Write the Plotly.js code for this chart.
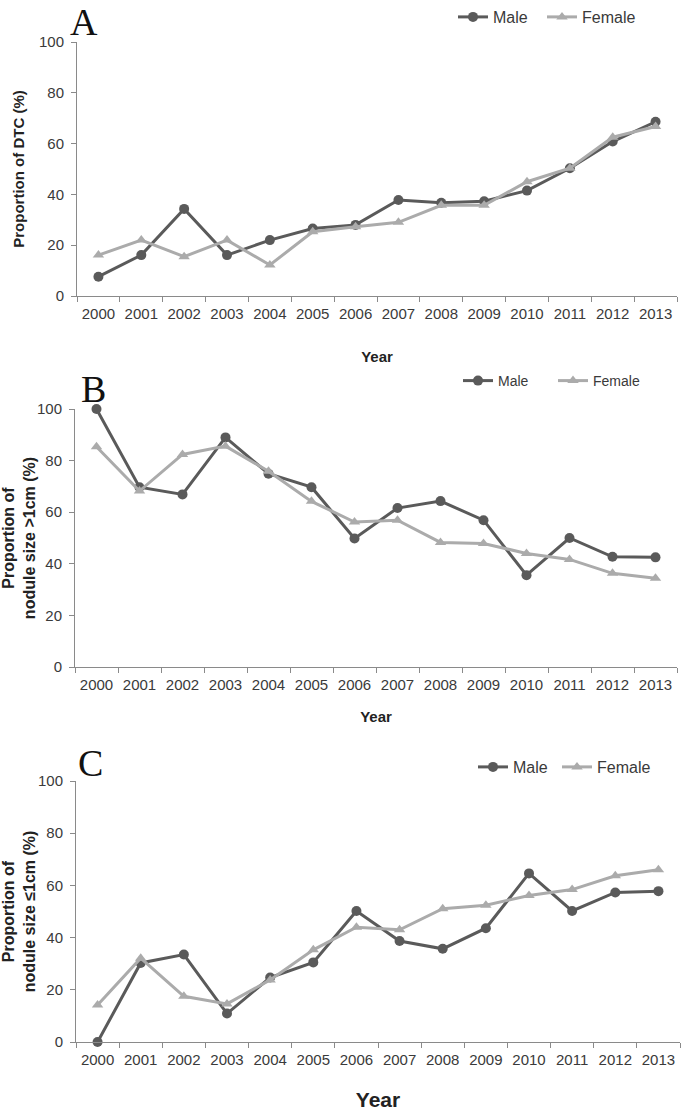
<!DOCTYPE html>
<html>
<head>
<meta charset="utf-8">
<script src="https://cdn.plot.ly/plotly-3.0.1.min.js"></script>
<style>html,body{margin:0;padding:0;background:#fff;}#chart{width:685px;height:1115px;}</style>
</head>
<body>
<div id="chart"></div>
<script>
// ---- data ----
const years = ['2000','2001','2002','2003','2004','2005','2006','2007','2008','2009','2010','2011','2012','2013'];
const dtcMale     = [7.6, 16.1, 34.3, 16.1, 22.0, 26.6, 28.0, 37.8, 36.7, 37.3, 41.5, 50.3, 60.8, 68.6];
const dtcFemale   = [16.1, 22.0, 15.5, 22.0, 12.2, 25.3, 27.3, 29.0, 35.7, 35.7, 45.0, 50.3, 62.5, 66.7];
const bigMale     = [100, 69.7, 66.9, 89.0, 74.9, 69.7, 49.8, 61.6, 64.3, 56.9, 35.6, 50.0, 42.7, 42.5];
const bigFemale   = [85.4, 68.2, 82.4, 85.6, 75.9, 64.2, 56.2, 56.9, 48.3, 47.9, 44.0, 41.7, 36.3, 34.4];
const smallMale   = [0, 30.3, 33.5, 10.9, 24.7, 30.5, 50.2, 38.7, 35.7, 43.6, 64.6, 50.2, 57.3, 57.8];
const smallFemale = [14.2, 32.1, 17.5, 14.6, 23.8, 35.3, 44.0, 43.0, 51.1, 52.4, 56.1, 58.4, 63.7, 66.0];
const yTicks = [0, 20, 40, 60, 80, 100];
const seriesNames = ['Male', 'Female'];

const W = 685, H = 1115;
const maleColor = '#5a5a5a', femaleColor = '#ababab';
const tickFont = {family: 'Liberation Sans, Arial, sans-serif', size: 15, color: '#3a3a3a'};
const titleFont = {family: 'Liberation Sans, Arial, sans-serif', size: 15, color: '#222', weight: 'bold'};

function px(x) { return x / W; }
function py(y) { return 1 - y / H; }

function mk(yv, name, i, leg) {
  const male = name === 'Male';
  return {
    x: years, y: yv, name: name, type: 'scatter', mode: 'lines+markers',
    xaxis: i === 1 ? 'x' : 'x' + i, yaxis: i === 1 ? 'y' : 'y' + i,
    legend: leg, cliponaxis: false,
    line: {color: male ? maleColor : femaleColor, width: 3},
    marker: {symbol: male ? 'circle' : 'triangle-up', size: 10, color: male ? maleColor : femaleColor}
  };
}

const data = [
  mk(dtcMale, seriesNames[0], 1, 'legend'), mk(dtcFemale, seriesNames[1], 1, 'legend2'),
  mk(bigMale, seriesNames[0], 2, 'legend3'), mk(bigFemale, seriesNames[1], 2, 'legend4'),
  mk(smallMale, seriesNames[0], 3, 'legend5'), mk(smallFemale, seriesNames[1], 3, 'legend6')
];

function xa(x0, x1, anchor, yearSize, standoff) {
  return {
    domain: [px(x0), px(x1)], anchor: anchor, type: 'category', range: [-0.5, 13.5],
    tickson: 'boundaries', ticks: 'outside', ticklen: 5, tickcolor: '#8a8a8a',
    showline: true, linecolor: '#8a8a8a', linewidth: 1, showgrid: false, zeroline: false,
    tickfont: tickFont, tickangle: 0, ticklabelstandoff: 4, fixedrange: true,
    title: {text: 'Year', font: Object.assign({}, titleFont, {size: yearSize}), standoff: standoff}
  };
}
function ya(y0, y1, anchor, title, size, standoff) {
  return {
    domain: [py(y1), py(y0)], anchor: anchor, range: [0, 100], tickvals: yTicks,
    ticks: 'outside', ticklen: 5, tickcolor: '#8a8a8a',
    showline: true, linecolor: '#8a8a8a', linewidth: 1, showgrid: false, zeroline: false,
    tickfont: tickFont, ticklabelstandoff: 4, fixedrange: true,
    title: {text: title, font: Object.assign({}, titleFont, {size: size}), standoff: standoff}
  };
}
function leg(lineStart, yPos, size, anchor) {
  return {orientation: 'h', x: px(lineStart - 5), y: py(yPos), xanchor: 'left', yanchor: anchor,
    font: {family: 'Liberation Sans, Arial, sans-serif', size: size, color: '#3a3a3a'},
    bgcolor: 'rgba(0,0,0,0)', itemwidth: 30};
}
function letter(t, x, y) {
  return {text: t, x: px(x), y: py(y), xref: 'paper', yref: 'paper', showarrow: false,
    xanchor: 'center', yanchor: 'middle',
    font: {family: 'Liberation Serif, serif', size: 38, color: '#111'}};
}

const layout = {
  width: W, height: H, margin: {l: 0, r: 0, t: 0, b: 0},
  paper_bgcolor: '#fff', plot_bgcolor: '#fff', showlegend: true,
  xaxis: xa(77, 677, 'y', 15, 30),
  yaxis: ya(42, 296, 'x', 'Proportion of DTC (%)', 15, 10),
  xaxis2: xa(75, 677, 'y2', 15, 19),
  yaxis2: ya(409, 667, 'x2', 'Proportion of<br>nodule size >1cm (%)', 16, 1),
  xaxis3: xa(76, 680, 'y3', 21, 25),
  yaxis3: ya(781, 1042, 'x3', 'Proportion of<br>nodule size ≤1cm (%)', 16, 1),
  legend:  leg(458, 0, 16, 'top'),
  legend2: leg(547, 0, 16, 'top'),
  legend3: leg(463, 381, 14, 'middle'),
  legend4: leg(558, 381, 14, 'middle'),
  legend5: leg(478, 767, 16, 'middle'),
  legend6: leg(562, 767, 16, 'middle'),
  annotations: [letter('A', 84, 22), letter('B', 93, 389), letter('C', 90, 763)]
};

Plotly.newPlot('chart', data, layout, {displayModeBar: false, staticPlot: true});
</script>
</body>
</html>
